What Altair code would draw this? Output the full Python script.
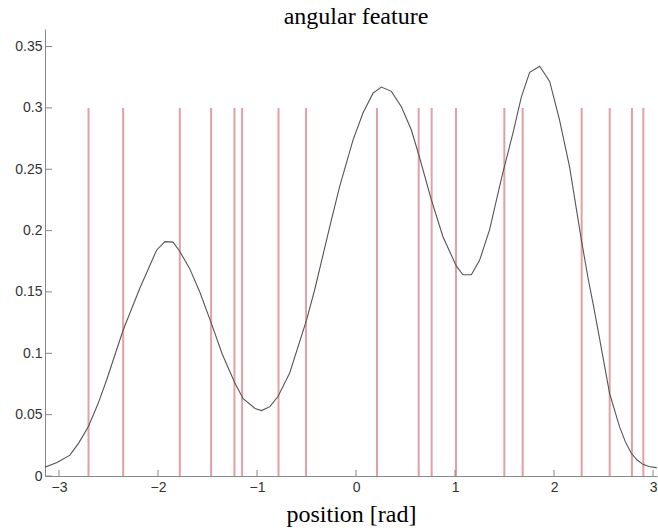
import altair as alt
import pandas as pd

# curve
curve_x = [-3.1416, -3.02, -2.89, -2.80, -2.706, -2.61, -2.52, -2.352, -2.184, -2.015, -1.93, -1.848, -1.78,
           -1.68, -1.578, -1.464, -1.35, -1.225, -1.14, -1.02, -0.955, -0.87, -0.787,
           -0.67, -0.50, -0.417, -0.266, -0.165, -0.03, 0.071, 0.172, 0.256, 0.357,
           0.458, 0.559, 0.633, 0.761, 0.878, 1.014, 1.08, 1.165, 1.249, 1.35,
           1.45, 1.491, 1.585, 1.67, 1.754, 1.855, 1.956, 2.056, 2.157, 2.276,
           2.342, 2.40, 2.46, 2.561, 2.662, 2.72, 2.78, 2.84, 2.898, 2.96, 3.03, 3.1416]
curve_y = [0.0072, 0.011, 0.017, 0.027, 0.040, 0.058, 0.078, 0.119, 0.153, 0.184, 0.191, 0.1906, 0.183,
           0.169, 0.150, 0.125, 0.099, 0.076, 0.063, 0.055, 0.0533, 0.0565, 0.065,
           0.084, 0.127, 0.152, 0.203, 0.236, 0.274, 0.296, 0.312, 0.317, 0.3135,
           0.301, 0.282, 0.262, 0.225, 0.195, 0.171, 0.164, 0.164, 0.176, 0.201,
           0.236, 0.2496, 0.2795, 0.309, 0.329, 0.334, 0.3216, 0.290, 0.252, 0.1925,
           0.162, 0.138, 0.112, 0.0674, 0.040, 0.028, 0.0185, 0.013, 0.0095, 0.0078, 0.0068, 0.0065]

# spike positions (red vertical lines)
spikes = [-2.702, -2.352, -1.780, -1.464, -1.228, -1.151, -0.783, -0.505, 0.212,
          0.633, 0.764, 1.010, 1.498, 1.683, 2.279, 2.562, 2.787, 2.902]
spike_low = 0.0
spike_high = 0.3

x_ticks = [-3, -2, -1, 0, 1, 2, 3]
y_ticks = [0, 0.05, 0.1, 0.15, 0.2, 0.25, 0.3, 0.35]

W, H = 612, 447
x_dom = [-3.1416, 3.04]
y_dom = [0, 0.3643]

xs = alt.Scale(domain=x_dom, nice=False, zero=False)
ys = alt.Scale(domain=y_dom, nice=False, zero=False)

curve_df = pd.DataFrame({"x": curve_x, "y": curve_y})
spike_df = pd.DataFrame({"x": spikes, "y0": [spike_low] * len(spikes), "y1": [spike_high] * len(spikes)})
xt_df = pd.DataFrame({"t": x_ticks})
yt_df = pd.DataFrame({"t": y_ticks})

spk = alt.Chart(spike_df).mark_rule(color="#e3a0a4", strokeWidth=2).encode(
    x=alt.X("x:Q", scale=xs,
            axis=alt.Axis(values=x_ticks, format="d", title="position [rad]",
                          titleFont="Liberation Serif", titleFontSize=24, titleFontWeight="normal",
                          titleColor="#000", titleBaseline="alphabetic", titleY=45,
                          labelPadding=4)),
    y=alt.Y("y0:Q", scale=ys,
            axis=alt.Axis(values=y_ticks, format=".2~f", title=None, labelPadding=3)),
    y2="y1:Q",
)

line = alt.Chart(curve_df).mark_line(color="#555555", strokeWidth=1.1, clip=True).encode(
    x=alt.X("x:Q", scale=xs), y=alt.Y("y:Q", scale=ys)
)

xt = alt.Chart(xt_df).mark_rule(color="#888888", strokeWidth=1).encode(
    x=alt.X("t:Q", scale=xs), y=alt.value(H), y2=alt.value(H - 6)
)
yt = alt.Chart(yt_df).mark_rule(color="#888888", strokeWidth=1).encode(
    y=alt.Y("t:Q", scale=ys), x=alt.value(0), x2=alt.value(7)
)

chart = alt.layer(spk, line, xt, yt).properties(
    width=W, height=H,
    title=alt.TitleParams("angular feature", font="Liberation Serif", fontSize=24,
                          fontWeight="normal", color="#000", anchor="middle", offset=0, dx=5),
    autosize=alt.AutoSizeParams(type="none"),
    padding={"left": 45, "top": 29, "right": 1, "bottom": 55},
).configure_view(stroke=None).configure_axis(
    grid=False, ticks=False, domainColor="#888888", domainWidth=1,
    labelFont="Liberation Sans", labelFontSize=14, labelColor="#333333",
)

chart.save("out.html", embed_options={"renderer": "svg", "actions": False})
